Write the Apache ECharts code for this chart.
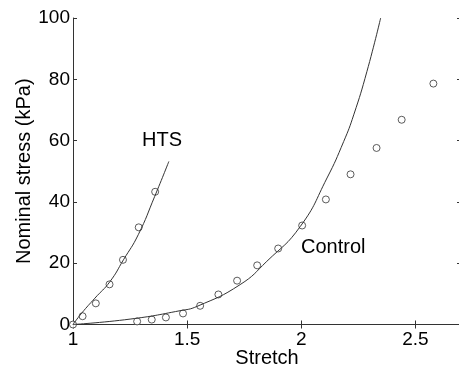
<!DOCTYPE html>
<html>
<head>
<meta charset="utf-8">
<script src="https://cdn.jsdelivr.net/npm/echarts@6/dist/echarts.min.js"></script>
<style>
  html, body { margin: 0; padding: 0; background: #fff; }
  #main { width: 459px; height: 366px; }
</style>
</head>
<body>
<div id="main"></div>
<script>
// measured points (circles)
var htsX = [1.0, 1.042, 1.10, 1.16, 1.219, 1.288, 1.36];
var htsY = [0, 2.7, 6.9, 13.1, 21.1, 31.7, 43.3];
var controlX = [1.281, 1.345, 1.407, 1.482, 1.557, 1.637, 1.719, 1.807, 1.899, 2.004, 2.108, 2.216, 2.330, 2.44, 2.579];
var controlY = [1.0, 1.6, 2.3, 3.6, 6.1, 9.8, 14.3, 19.3, 24.8, 32.3, 40.8, 49.0, 57.6, 66.8, 78.6];

// fitted curves
var htsFitX = [1, 1.038, 1.096, 1.162, 1.221, 1.286, 1.358, 1.42];
var htsFitY = [0, 3.7, 8.6, 14.0, 21.1, 29.3, 41.8, 53.2];
var controlFitX = [1, 1.25, 1.469, 1.543, 1.732, 1.849, 1.996, 2.113, 2.186, 2.23, 2.288, 2.348];
var controlFitY = [0, 1.76, 4.5, 5.9, 13.0, 20.6, 32.0, 47.8, 59.7, 68.4, 82.6, 100];

var xTicks = [1, 1.5, 2, 2.5];
var yTicks = [0, 20, 40, 60, 80, 100];

function pairs(xs, ys) {
    var out = [];
    for (var i = 0; i < xs.length; i++) out.push([xs[i], ys[i]]);
    return out;
}

var chart = echarts.init(document.getElementById('main'));
var font = 'Liberation Sans, Arial, Helvetica, sans-serif';
var ink = '#333';

var option = {
    animation: false,
    grid: { left: 73, top: 18, width: 388, height: 306.5, containLabel: false, outerBoundsMode: 'none' },
    xAxis: [{
        type: 'value', min: 1, max: 2.7, interval: 0.5,
        name: 'Stretch', nameLocation: 'middle', nameGap: 24, nameMoveOverlap: false,
        nameTextStyle: { fontFamily: font, fontSize: 20, color: '#000' },
        axisLine: { lineStyle: { color: ink, width: 1 } },
        axisTick: { inside: true, length: 4, lineStyle: { color: ink } },
        axisLabel: { fontFamily: font, fontSize: 19, color: '#000', margin: 6,
            formatter: function (v) { return xTicks.indexOf(v) >= 0 ? String(v) : ''; } },
        splitLine: { show: false }
    }, {
        type: 'value', min: 1, max: 2.7, interval: 0.5, position: 'top',
        axisLine: { show: true, lineStyle: { color: ink, width: 1 } },
        axisTick: { inside: true, length: 4, lineStyle: { color: ink } },
        axisLabel: { show: false },
        splitLine: { show: false }
    }],
    yAxis: [{
        type: 'value', min: 0, max: 100, interval: 20,
        name: 'Nominal stress (kPa)', nameLocation: 'middle', nameGap: 39, nameMoveOverlap: false,
        nameTextStyle: { fontFamily: font, fontSize: 20, color: '#000' },
        axisLine: { show: true, lineStyle: { color: ink, width: 1 } },
        axisTick: { inside: true, length: 4, lineStyle: { color: ink } },
        axisLabel: { fontFamily: font, fontSize: 19, color: '#000', margin: 3,
            formatter: function (v) { return yTicks.indexOf(v) >= 0 ? String(v) : ''; } },
        splitLine: { show: false }
    }, {
        type: 'value', min: 0, max: 100, interval: 20, position: 'right',
        axisLine: { show: true, lineStyle: { color: ink, width: 1 } },
        axisTick: { inside: true, length: 4, lineStyle: { color: ink } },
        axisLabel: { show: false },
        splitLine: { show: false }
    }],
    graphic: [
        { type: 'text', left: 142, top: 130, style: { text: 'HTS', fontFamily: font, fontSize: 20, fill: '#000' } },
        { type: 'text', left: 301, top: 237, style: { text: 'Control', fontFamily: font, fontSize: 20, fill: '#000' } }
    ],
    series: [{
        type: 'line', data: pairs(htsFitX, htsFitY), smooth: 0.5, showSymbol: false,
        lineStyle: { color: ink, width: 1 }
    }, {
        type: 'line', data: pairs(controlFitX, controlFitY), smooth: 0.5, showSymbol: false,
        lineStyle: { color: ink, width: 1 }
    }, {
        type: 'scatter', data: pairs(htsX, htsY), symbol: 'circle', symbolSize: 7,
        itemStyle: { color: '#fff', borderColor: ink, borderWidth: 1 }
    }, {
        type: 'scatter', data: pairs(controlX, controlY), symbol: 'circle', symbolSize: 7,
        itemStyle: { color: '#fff', borderColor: ink, borderWidth: 1 }
    }]
};
chart.setOption(option);
</script>
</body>
</html>
